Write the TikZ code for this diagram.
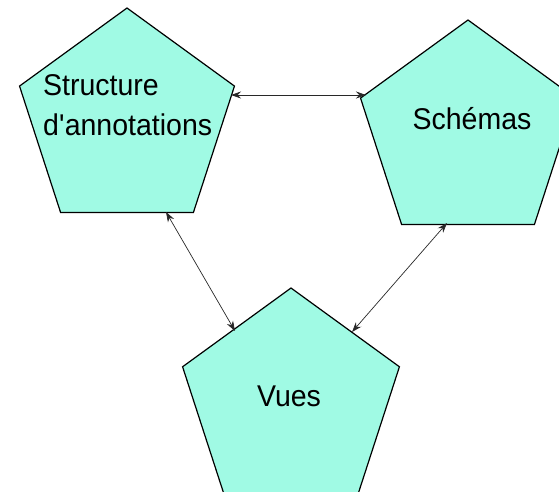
\documentclass[tikz,border=0pt]{standalone}
\usepackage{fontspec}
\setmainfont[FakeStretch=0.95]{Liberation Sans}
\usetikzlibrary{shapes.geometric,arrows.meta}
\definecolor{pentfill}{RGB}{160,250,228}
\definecolor{arrgray}{RGB}{40,40,40}
\begin{document}
\begin{tikzpicture}[x=1pt,y=-1pt,
  pent/.style={regular polygon,regular polygon sides=5,minimum size=226pt,inner sep=0pt,
    draw=black,line width=1.2pt,fill=pentfill},
  lbl/.style={font=\fontsize{30}{40}\selectfont,inner sep=0pt,text=black},
  link/.style={draw=arrgray,line width=0.7pt,{Stealth[length=10pt,width=7pt]}-{Stealth[length=10pt,width=7pt]}}]
\useasboundingbox (0,0) rectangle (559,492);
\clip (0,0) rectangle (559,492);
\node[pent] (p1) at (127,121) {};
\node[pent] (p2) at (468,133) {};
\node[pent,minimum size=228pt] (p3) at (291,402) {};
\node[lbl,anchor=north west,align=left] (t1) at (43,74) {Structure\\d\textquotesingle annotations};
\node[lbl,anchor=base] (t2) at (472,129) {Schémas};
\node[lbl,anchor=base] (t3) at (289,406) {Vues};
\coordinate (a1s) at (231,95);
\coordinate (a1e) at (366,95);
\coordinate (a2s) at (166,212);
\coordinate (a2e) at (235,331);
\coordinate (a3s) at (447,223);
\coordinate (a3e) at (352,332);
\draw[link] (a1s) -- (a1e);
\draw[link] (a2s) -- (a2e);
\draw[link] (a3s) -- (a3e);
\end{tikzpicture}
\end{document}
